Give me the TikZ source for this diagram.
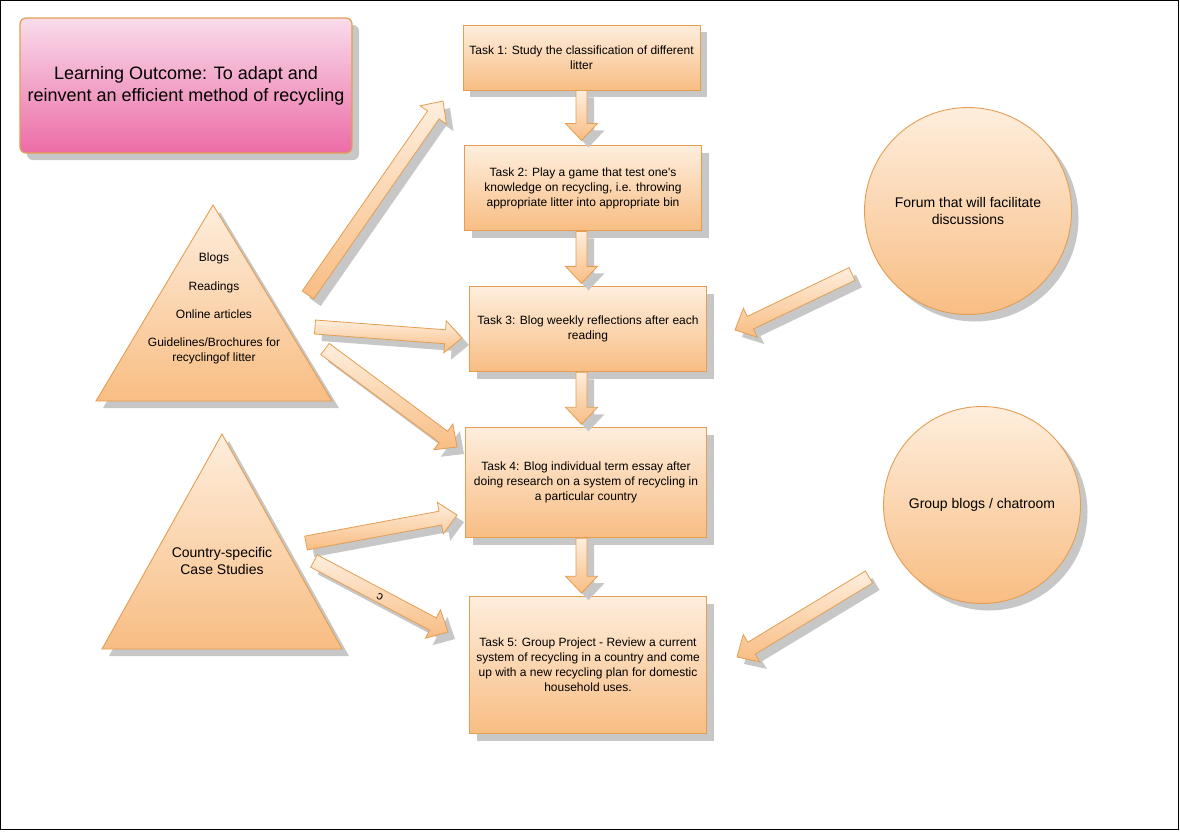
\documentclass[tikz,border=0pt]{standalone}
\usepackage{fontspec}
\setmainfont{Liberation Sans}
\usetikzlibrary{positioning,calc,shadows}
\definecolor{pale}{HTML}{FEEEDD}
\definecolor{tan}{HTML}{F8BD83}
\definecolor{edge}{HTML}{E39E52}
\definecolor{pinktop}{HTML}{F9DCEB}
\definecolor{pinkbot}{HTML}{EC6CA6}
\newcommand\blkarrow[3]{%
  \coordinate (ba) at #2; \coordinate (bb) at #3;
  \coordinate (bh) at ($(bb)!17pt!(ba)$);
  \draw[blk] ($(ba)!#1!90:(bb)$) -- ($(bh)!#1!90:(bb)$) -- ($(bh)!16pt!90:(bb)$) -- (bb)
    -- ($(bh)!16pt!-90:(bb)$) -- ($(bh)!#1!-90:(bb)$) -- ($(ba)!#1!-90:(bb)$) -- cycle;}

\begin{document}
\begin{tikzpicture}[x=1pt, y=-1pt, node distance=55pt,
  orangefill/.style={draw=edge, line width=0.9pt, top color=pale, bottom color=tan,
    drop shadow={shadow xshift=7pt, shadow yshift=-7pt, fill=black!22, opacity=1}},
  task/.style={orangefill, minimum width=237pt, align=center, inner sep=2pt,
    font=\fontsize{12}{15}\selectfont},
  circ/.style={orangefill, circle, align=center, font=\fontsize{14}{16.5}\selectfont},
  blk/.style={orangefill, line width=0.8pt},
  txt/.style={align=center, inner sep=0pt}]
\useasboundingbox (0,0) rectangle (1180,831);
\draw[black, line width=1pt] (0.5,0.5) rectangle (1178.5,829.5);
\node[draw=edge, line width=1.2pt, rounded corners=6pt, top color=pinktop, bottom color=pinkbot,
  drop shadow={shadow xshift=7pt, shadow yshift=-7pt, fill=black!22, opacity=1},
  minimum width=332pt, minimum height=135pt, align=center,
  font=\fontsize{18}{22}\selectfont] (goal) at (186,85.5)
  {Learning Outcome: To adapt and\\reinvent an efficient method of recycling};
\node[task, minimum height=65pt] (t1) at (581.5,57.5) {Task 1: Study the classification of different\\litter};
\node[task, minimum height=85pt, below=of t1, xshift=1.5pt] (t2) {Task 2: Play a game that test one\textquotesingle s\\knowledge on recycling, i.e. throwing\\appropriate litter into appropriate bin};
\node[task, minimum height=85pt, below=of t2, xshift=5pt] (t3) {Task 3: Blog weekly reflections after each\\reading};
\node[task, minimum width=241pt, minimum height=110pt, below=of t3, xshift=-2pt] (t4) {Task 4: Blog individual term essay after\\doing research on a system of recycling in\\a particular country};
\node[task, minimum height=137pt, below=58pt of t4, xshift=2pt] (t5) {Task 5: Group Project - Review a current\\system of recycling in a country and come\\up with a new recycling plan for domestic\\household uses.};
\draw[orangefill] (213,205) -- (332,401) -- (96,401) -- cycle;
\node[txt, font=\fontsize{12}{15}\selectfont] (src1) at (214,308)
  {Blogs\\[14pt]Readings\\[13pt]Online articles\\[13pt]Guidelines/Brochures for\\recyclingof litter};
\draw[orangefill] (222,434) -- (342,649) -- (102,649) -- cycle;
\node[txt, font=\fontsize{14}{17}\selectfont] (src2) at (222,561) {Country-specific\\Case Studies};
\node[circ, minimum size=207pt] (forum) at (968,211) {Forum that will facilitate\\discussions};
\node[circ, minimum size=197pt] (chat) at (982,505) {Group blogs / chatroom};
\blkarrow{5.5pt}{(t1.south)}{($(t1.south |- t2.north)+(0,-5)$)}
\blkarrow{5.5pt}{(t1.south |- t2.south)}{($(t1.south |- t3.north)+(0,-3)$)}
\blkarrow{5.5pt}{(t1.south |- t3.south)}{($(t1.south |- t4.north)+(0,-3)$)}
\blkarrow{5.5pt}{(t1.south |- t4.south)}{($(t1.south |- t5.north)+(0,-3)$)}
\coordinate (a1) at (308,295); \coordinate (a1t) at (443,101);
\coordinate (a2) at (315,327); \coordinate (a2t) at (462,338);
\coordinate (a3) at (325,349); \coordinate (a3t) at (457,447);
\coordinate (a4) at (306,543); \coordinate (a4t) at (457,515);
\coordinate (a5) at (314,561); \coordinate (a5t) at (448,632);
\coordinate (a6) at (852,274); \coordinate (a6t) at (735,330);
\coordinate (a7) at (869,577); \coordinate (a7t) at (737,657);
\blkarrow{7pt}{(a1)}{(a1t)}
\blkarrow{7pt}{(a2)}{(a2t)}
\blkarrow{7pt}{(a3)}{(a3t)}
\blkarrow{7pt}{(a4)}{(a4t)}
\blkarrow{7pt}{(a5)}{(a5t)}
\blkarrow{7pt}{(a6)}{(a6t)}
\blkarrow{7pt}{(a7)}{(a7t)}
\node[rotate=152, inner sep=0pt, font=\fontsize{12}{14}\selectfont] (cmark) at (380,597) {c};
\end{tikzpicture}
\end{document}
